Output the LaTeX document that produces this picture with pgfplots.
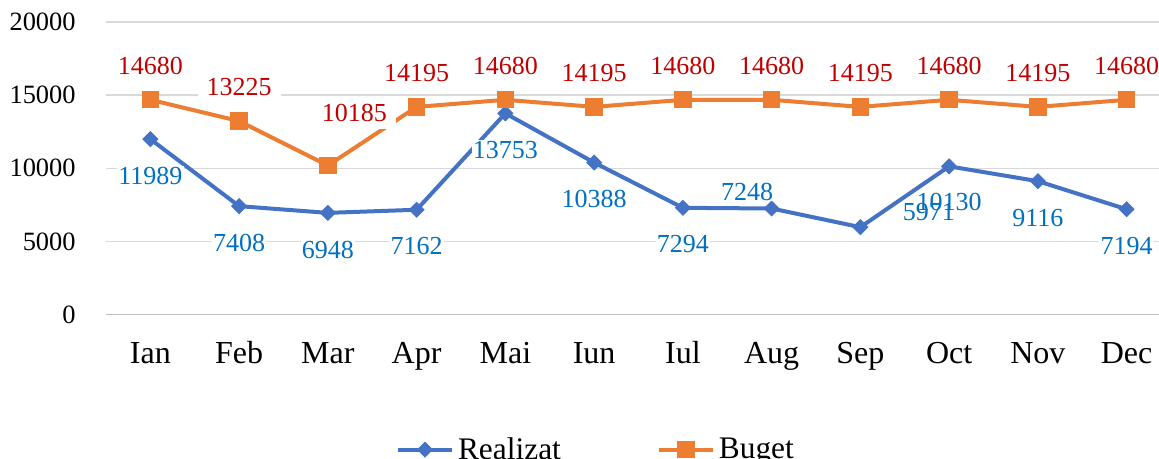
\documentclass[border=0pt]{standalone}
\usepackage{fontspec}
\setmainfont{Liberation Serif}
\usepackage{pgfplots}
\pgfplotsset{compat=1.18}
\definecolor{cblue}{HTML}{4472C4}
\definecolor{corange}{HTML}{ED7D31}
\definecolor{lred}{HTML}{C00000}
\definecolor{lblue}{HTML}{0070C0}
\definecolor{gridgray}{HTML}{D9D9D9}
\definecolor{axisgray}{HTML}{BFBFBF}

\pgfplotsset{
  realstyle/.style={color=cblue, line width=2pt, mark=square*, mark size=2.6pt,
    mark options={rotate=45, solid, fill=cblue, draw=cblue, line width=0.5pt}},
  bugstyle/.style={color=corange, line width=2pt, mark=square*, mark size=4.1pt,
    mark options={solid, fill=corange, draw=corange, line width=0.5pt}},
  rlab/.style={draw=none, mark=none, forget plot, nodes near coords,
    nodes near coords style={anchor=center, font=\fontsize{13}{15}\selectfont,
      text=lblue, fill=white, inner sep=0.6pt, #1}},
  blab/.style={draw=none, mark=none, forget plot, nodes near coords,
    nodes near coords style={anchor=center, font=\fontsize{13}{15}\selectfont,
      text=lred, fill=white, inner xsep=4.5pt, inner ysep=4pt, #1}},
}

\begin{document}
\begin{tikzpicture}
\begin{axis}[
  at={(0,0)}, anchor=south west,
  scale only axis, width=532.5pt, height=146.25pt,
  xmin=-0.5, xmax=11.5, ymin=0, ymax=20000,
  xtick={0,...,11},
  xticklabels={Ian,Feb,Mar,Apr,Mai,Iun,Iul,Aug,Sep,Oct,Nov,Dec},
  ytick={0,5000,10000,15000,20000},
  scaled y ticks=false,
  ymajorgrids,
  grid style={draw=gridgray, line width=0.65pt},
  axis x line*=bottom, axis y line*=left,
  x axis line style={draw=axisgray, line width=0.6pt, -},
  y axis line style={draw=none},
  major tick length=0pt,
  /pgf/number format/assume math mode=true,
  /pgf/number format/1000 sep={},
  yticklabel style={font=\fontsize{13.2}{15}\selectfont, inner sep=0pt, anchor=east, xshift=-15pt,
    /pgf/number format/fixed, /pgf/number format/precision=0},
  xticklabel style={font=\fontsize{16}{18}\selectfont, inner sep=0pt, anchor=north, text height=11pt, text depth=3pt, yshift=-13.1pt},
  legend columns=2,
  legend style={draw=none, fill=none, at={(0.461,-0.462)}, anchor=center,
    font=\fontsize{15.7}{18}\selectfont,
    /tikz/every even column/.append style={column sep=46pt}},
  legend image code/.code={\draw[#1, mark repeat=2, mark phase=2] plot coordinates {(0pt,0pt) (13.5pt,0pt) (27pt,0pt)};},
]
% series
\addplot[realstyle] coordinates {(0,11989) (1,7408) (2,6948) (3,7162) (4,13753) (5,10388) (6,7294) (7,7248) (8,5971) (9,10130) (10,9116) (11,7194)};
\addlegendentry{Realizat}
\addplot[bugstyle] coordinates {(0,14680) (1,13225) (2,10185) (3,14195) (4,14680) (5,14195) (6,14680) (7,14680) (8,14195) (9,14680) (10,14195) (11,14680)};
\addlegendentry{Buget}
% data labels: Realizat
\addplot[rlab={yshift=-18.3pt}] coordinates {(0,11989) (1,7408) (2,6948) (3,7162) (4,13753) (5,10388) (6,7294) (10,9116) (11,7194)};
\addplot[rlab={xshift=-12.2pt, yshift=8.5pt}] coordinates {(7,7248)};
\addplot[rlab={xshift=34.2pt, yshift=7.4pt}] coordinates {(8,5971)};
\addplot[rlab={yshift=-18pt, fill=none}] coordinates {(9,10130)};
% data labels: Buget
\addplot[blab={yshift=17pt}] coordinates {(0,14680) (1,13225) (3,14195) (4,14680) (5,14195) (6,14680) (7,14680) (8,14195) (9,14680) (10,14195) (11,14680)};
\addplot[blab={xshift=13.3pt, yshift=26.5pt}] coordinates {(2,10185)};
\end{axis}
\pgfresetboundingbox
\path[use as bounding box] (-53pt,-72.25pt) rectangle (526.5pt,157.25pt);
\end{tikzpicture}
\end{document}
